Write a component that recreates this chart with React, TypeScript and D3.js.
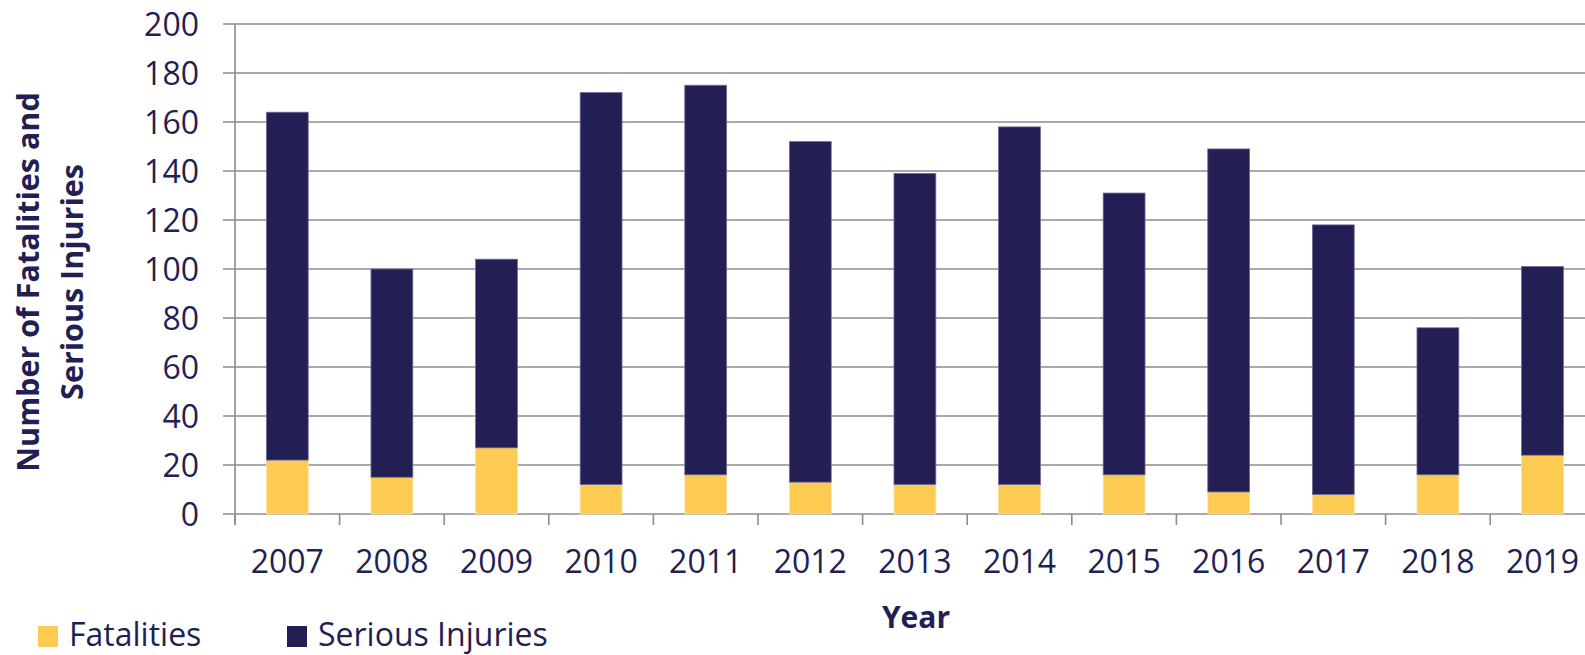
import { useRef, useEffect } from 'react';
import * as d3 from 'd3';

// Yearly counts
const YEARS = ['2007', '2008', '2009', '2010', '2011', '2012', '2013', '2014', '2015', '2016', '2017', '2018', '2019'];
const FATALITIES = [22, 15, 27, 12, 16, 13, 12, 12, 16, 9, 8, 16, 24];
const SERIOUS_INJURIES = [142, 85, 77, 160, 159, 139, 127, 146, 115, 140, 110, 60, 77];
const Y_TICKS = [0, 20, 40, 60, 80, 100, 120, 140, 160, 180, 200];

const SERIES = [
  { key: 'fatal', label: 'Fatalities', color: '#FECB52', stroke: '#FDE2A2' },
  { key: 'serious', label: 'Serious Injuries', color: '#231F55', stroke: '#6E6B98' },
];

const NAVY = '#231F55';
const GRID = '#8C8C8C';
const FONT = '"Open Sans", "Noto Sans", sans-serif';

export default function App() {
  const ref = useRef<SVGSVGElement>(null);

  useEffect(() => {
    const svg = ref.current;
    if (!svg) return;
    const W = 1585, H = 655;
    const padL = 235, padT = 24, plotH = 490;
    const step = 104.6;
    const plotW = step * YEARS.length;

    d3.select(svg).selectAll('*').remove();
    const g = d3.select(svg).attr('viewBox', `0 0 ${W} ${H}`).append('g');

    const x = d3.scaleBand<string>().domain(YEARS).range([padL, padL + plotW]).paddingInner(0.6).paddingOuter(0.3);
    const y = d3.scaleLinear().domain([0, 200]).range([padT + plotH, padT]);

    // Grid lines (with short ticks left of the axis)
    Y_TICKS.forEach((v) => {
      g.append('line')
        .attr('x1', padL - 12).attr('y1', y(v)).attr('x2', W).attr('y2', y(v))
        .attr('stroke', GRID).attr('stroke-width', 1.6);
      g.append('text')
        .attr('x', 199).attr('y', y(v)).attr('dy', '0.36em')
        .attr('text-anchor', 'end').attr('font-size', 32).attr('font-family', FONT).attr('fill', NAVY)
        .text(v);
    });

    // Y axis
    g.append('line').attr('x1', padL).attr('y1', padT).attr('x2', padL).attr('y2', y(0) + 11)
      .attr('stroke', GRID).attr('stroke-width', 1.6);

    // Category ticks under the axis
    YEARS.forEach((_, i) => {
      const tx = padL + i * step;
      g.append('line').attr('x1', tx).attr('y1', y(0)).attr('x2', tx).attr('y2', y(0) + 11)
        .attr('stroke', GRID).attr('stroke-width', 1.6);
    });

    // Stacked bars
    const rows = YEARS.map((yr, i) => ({ year: yr, fatal: FATALITIES[i], serious: SERIOUS_INJURIES[i] }));
    const stack = d3.stack<(typeof rows)[0]>().keys(SERIES.map((s) => s.key))(rows);
    stack.forEach((layer, li) => {
      const s = SERIES[li];
      layer.forEach((d) => {
        g.append('rect')
          .attr('x', x(d.data.year)!).attr('y', y(d[1]))
          .attr('width', x.bandwidth()).attr('height', y(d[0]) - y(d[1]))
          .attr('fill', s.color).attr('stroke', s.stroke).attr('stroke-width', 0.8);
      });
    });

    // X labels
    YEARS.forEach((yr) => {
      g.append('text')
        .attr('x', x(yr)! + x.bandwidth() / 2).attr('y', 573)
        .attr('text-anchor', 'middle').attr('font-size', 32).attr('font-family', FONT).attr('fill', NAVY)
        .text(yr);
    });

    // Axis titles
    g.append('text')
      .attr('x', 916).attr('y', 628)
      .attr('text-anchor', 'middle').attr('font-size', 30).attr('font-weight', 'bold').attr('font-family', FONT).attr('fill', NAVY)
      .text('Year');

    const title = g.append('g').attr('transform', 'translate(0,282) rotate(-90)');
    title.append('text')
      .attr('x', 0).attr('y', 39)
      .attr('text-anchor', 'middle').attr('font-size', 30.5).attr('font-weight', 'bold').attr('font-family', FONT).attr('fill', NAVY)
      .text('Number of Fatalities and');
    title.append('text')
      .attr('x', 0).attr('y', 83)
      .attr('text-anchor', 'middle').attr('font-size', 30.5).attr('font-weight', 'bold').attr('font-family', FONT).attr('fill', NAVY)
      .text('Serious Injuries');

    // Legend
    const legendX = [38, 287];
    SERIES.forEach((s, i) => {
      g.append('rect').attr('x', legendX[i]).attr('y', 626).attr('width', 20).attr('height', 21).attr('fill', s.color);
      g.append('text')
        .attr('x', legendX[i] + 31).attr('y', 646)
        .attr('font-size', 32).attr('font-family', FONT).attr('fill', NAVY)
        .text(s.label);
    });
  }, []);

  return (
    <svg
      ref={ref}
      width={1585}
      height={655}
      style={{ position: 'absolute', left: 0, top: 0, display: 'block', background: '#fff' }}
    />
  );
}
